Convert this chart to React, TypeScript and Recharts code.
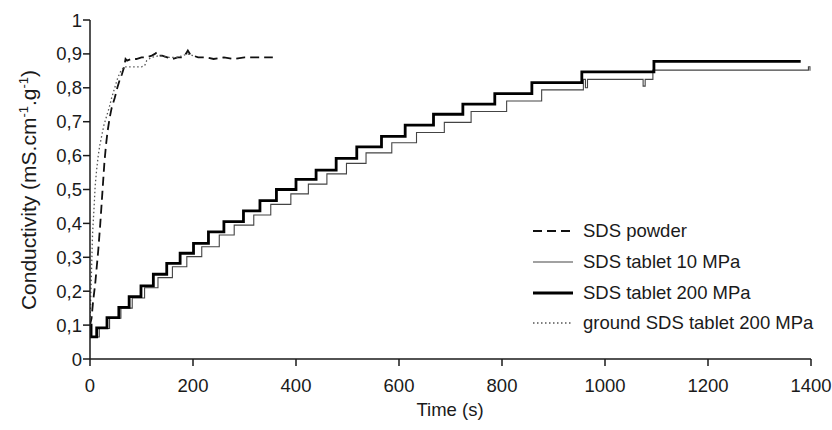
import { Legend, Line, LineChart, XAxis, YAxis } from "recharts";

// SDS powder (dashed)
const powderTime = [
  0, 3, 6, 10, 13, 16, 20, 24, 28, 31, 34, 38, 42, 48, 53, 57, 62, 66, 69, 72, 80, 90, 100, 110, 120, 126,
  130, 134, 140, 150, 160, 170, 180, 186, 190, 194, 200, 210, 225, 240, 260, 280, 300, 320, 340, 355,
];
const powderCond = [
  0.1, 0.12, 0.17, 0.22, 0.27, 0.32, 0.4, 0.49, 0.58, 0.63, 0.67, 0.71, 0.74, 0.77, 0.8, 0.82, 0.84, 0.86,
  0.885, 0.88, 0.885, 0.885, 0.89, 0.89, 0.895, 0.9, 0.905, 0.895, 0.895, 0.89, 0.885, 0.89, 0.89, 0.9, 0.91,
  0.9, 0.895, 0.89, 0.89, 0.885, 0.89, 0.885, 0.89, 0.89, 0.89, 0.89,
];

// SDS tablet 10 MPa (thin steps)
const tab10Time = [
  0, 3, 18, 38, 60, 82, 106, 132, 160, 188, 217, 251, 280, 318, 351, 390, 424, 460, 498, 536, 586, 634, 688,
  740, 809, 877, 958, 962, 966, 1074, 1078, 1093, 1392, 1395, 1398,
];
const tab10Cond = [
  0.1, 0.065, 0.09, 0.12, 0.15, 0.18, 0.21, 0.24, 0.272, 0.302, 0.331, 0.366, 0.395, 0.425, 0.456, 0.487,
  0.516, 0.546, 0.577, 0.608, 0.638, 0.668, 0.698, 0.73, 0.761, 0.794, 0.825, 0.8, 0.825, 0.805, 0.825, 0.852,
  0.852, 0.862, 0.85,
];

// SDS tablet 200 MPa (thick steps)
const tab200Time = [
  0, 2, 13, 33, 56, 76, 99, 123, 149, 175, 201, 230, 260, 298, 330, 362, 400, 439, 478, 518, 566, 612, 667,
  724, 786, 858, 955, 1095, 1380,
];
const tab200Cond = [
  0.1, 0.065, 0.092, 0.122, 0.152, 0.184, 0.216, 0.25, 0.282, 0.312, 0.341, 0.375, 0.405, 0.437, 0.467, 0.5,
  0.53, 0.557, 0.592, 0.626, 0.657, 0.69, 0.722, 0.752, 0.783, 0.815, 0.847, 0.878, 0.878,
];

// ground SDS tablet 200 MPa (dotted)
const groundTime = [
  0, 2, 5, 8, 10, 13, 16, 19, 23, 27, 32, 37, 42, 48, 54, 60, 66, 72, 80, 90, 100, 106, 110, 120, 135, 150,
  170, 190, 200,
];
const groundCond = [
  0.1, 0.21, 0.37, 0.45, 0.51, 0.56, 0.6, 0.63, 0.66, 0.69, 0.715, 0.74, 0.77, 0.8, 0.83, 0.85, 0.862, 0.862,
  0.862, 0.862, 0.862, 0.865, 0.88, 0.89, 0.895, 0.89, 0.89, 0.9, 0.895,
];

const xTicks = [0, 200, 400, 600, 800, 1000, 1200, 1400];
const yTicks = [0, 0.1, 0.2, 0.3, 0.4, 0.5, 0.6, 0.7, 0.8, 0.9, 1];

const font = "'Liberation Sans', Arial, Helvetica, sans-serif";
const ink = "#1a1a1a";
const tickFont = 18.5;

const toPoints = (time: number[], cond: number[]) => time.map((t, i) => ({ t, v: cond[i] }));

type Series = {
  name: string;
  data: { t: number; v: number }[];
  type: "linear" | "stepAfter";
  stroke: string;
  width: number;
  dash?: string;
};

const series: Series[] = [
  { name: "SDS powder", data: toPoints(powderTime, powderCond), type: "linear", stroke: "#111", width: 1.8, dash: "9 5" },
  { name: "SDS tablet 10 MPa", data: toPoints(tab10Time, tab10Cond), type: "stepAfter", stroke: "#444", width: 1.1 },
  { name: "SDS tablet 200 MPa", data: toPoints(tab200Time, tab200Cond), type: "stepAfter", stroke: "#000", width: 2.8 },
  { name: "ground SDS tablet 200 MPa", data: toPoints(groundTime, groundCond), type: "linear", stroke: "#555", width: 1.3, dash: "1.5 2.5" },
];

const fmtY = (v: number) => (v === 0 || v === 1 ? String(v) : v.toFixed(1).replace(".", ","));

function LegendBox() {
  return (
    <div style={{ fontFamily: font, fontSize: tickFont, color: ink }}>
      {series.map((s) => (
        <div key={s.name} style={{ display: "flex", alignItems: "center", height: 30.7 }}>
          <svg width={50} height={10}>
            <line x1={3} y1={5} x2={43} y2={5} stroke={s.stroke} strokeWidth={s.width} strokeDasharray={s.dash} />
          </svg>
          <span style={{ marginLeft: 3, whiteSpace: "nowrap" }}>{s.name}</span>
        </div>
      ))}
    </div>
  );
}

function YLabel() {
  return (
    <text transform="translate(36,190) rotate(-90)" textAnchor="middle" fontSize={21} fontFamily={font} fill={ink}>
      <tspan>Conductivity (mS.cm</tspan>
      <tspan dy={-8} fontSize={13}>-1</tspan>
      <tspan dy={8}>.g</tspan>
      <tspan dy={-8} fontSize={13}>-1</tspan>
      <tspan dy={8}>)</tspan>
    </text>
  );
}

function XLabel() {
  return (
    <text x={450} y={416} textAnchor="middle" fontSize={18.5} fontFamily={font} fill={ink}>
      Time (s)
    </text>
  );
}

export default function App() {
  return (
    <div style={{ position: "absolute", left: 0, top: 0, width: 832, height: 430, background: "#fff" }}>
      <LineChart width={832} height={430} margin={{ top: 20, right: 21, bottom: 0, left: 0 }} style={{ fontFamily: font }}>
        <XAxis
          dataKey="t"
          type="number"
          domain={[0, 1400]}
          ticks={xTicks}
          allowDataOverflow
          height={71}
          stroke={ink}
          strokeWidth={1.5}
          tickSize={7}
          tickMargin={13}
          tick={{ fontSize: tickFont, fill: ink, fontFamily: font }}
          label={<XLabel />}
        />
        <YAxis
          type="number"
          domain={[0, 1]}
          ticks={yTicks}
          width={90}
          stroke={ink}
          strokeWidth={1.5}
          tickSize={7}
          tickMargin={1}
          tickFormatter={fmtY}
          tick={{ fontSize: tickFont, fill: ink, fontFamily: font }}
          label={<YLabel />}
        />
        <Legend
          layout="vertical"
          align="center"
          verticalAlign="middle"
          wrapperStyle={{ left: 530, top: 216, width: 300 }}
          content={() => <LegendBox />}
        />
        {series.map((s) => (
          <Line
            key={s.name}
            name={s.name}
            data={s.data}
            dataKey="v"
            type={s.type}
            stroke={s.stroke}
            strokeWidth={s.width}
            strokeDasharray={s.dash}
            dot={false}
            activeDot={false}
            isAnimationActive={false}
          />
        ))}
      </LineChart>
    </div>
  );
}
